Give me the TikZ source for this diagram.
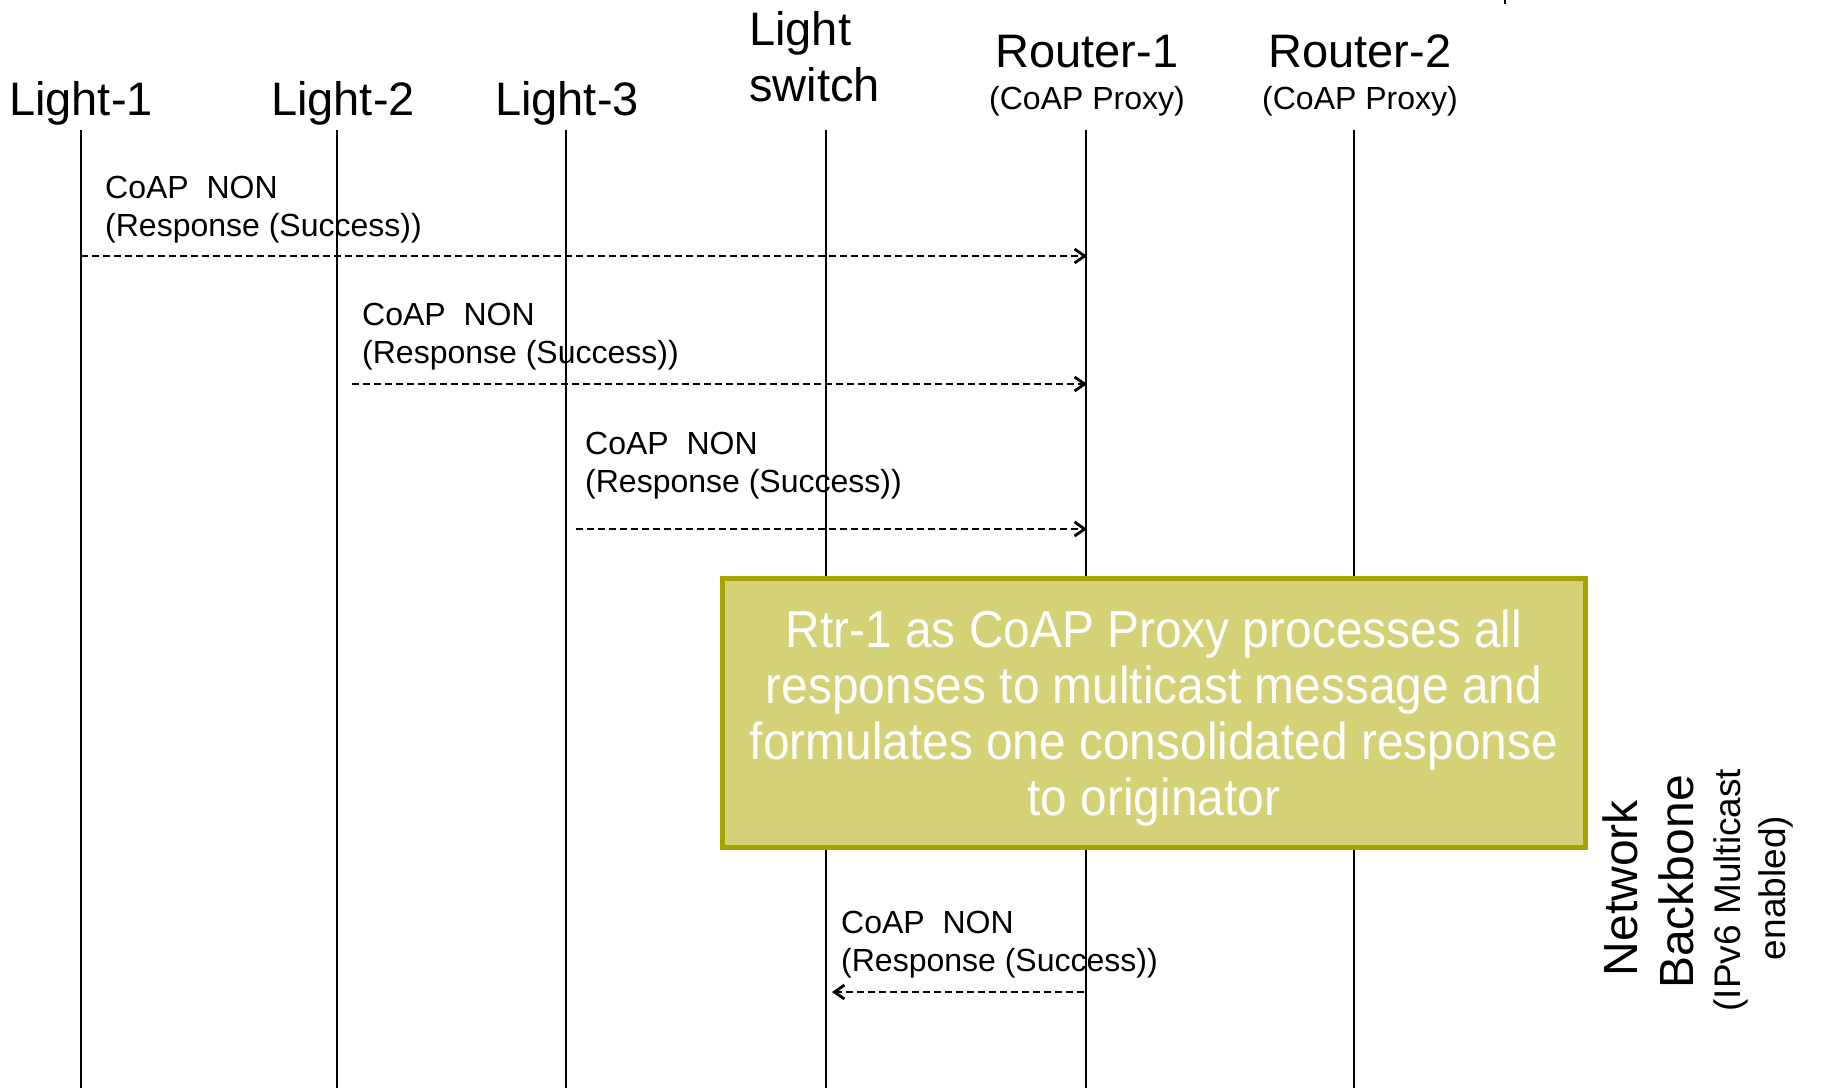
\documentclass[tikz,border=0pt]{standalone}
\usepackage{fontspec}
\setmainfont{Liberation Sans}
\newfontfamily\condfont[FakeStretch=0.92]{Liberation Sans}
\usetikzlibrary{arrows.meta}
\definecolor{boxfill}{RGB}{212,209,118}
\definecolor{boxline}{RGB}{166,163,0}
\begin{document}
\begin{tikzpicture}[x=1pt,y=-1pt,
  head/.style={font=\fontsize{47}{56}\selectfont, anchor=base, inner sep=0pt},
  sub/.style={font=\fontsize{32}{38}\selectfont, anchor=base, inner sep=0pt},
  msg/.style={font=\fontsize{32}{38}\selectfont, anchor=west, align=left, inner sep=0pt},
  side/.style={font=\fontsize{48}{56}\selectfont, rotate=90, anchor=base, inner sep=0pt},
  sidesmall/.style={font=\fontsize{37}{44}\selectfont, rotate=90, anchor=base, inner sep=0pt},
  life/.style={line width=1.5pt},
  msgarrow/.style={line width=1.8pt, dash pattern=on 7pt off 4pt, -{Straight Barb[length=10pt,width=14pt,line width=2.8pt]}},
  notebox/.style={draw=boxline, line width=5pt, fill=boxfill, minimum width=863pt, minimum height=269pt},
  notetext/.style={text=white, align=center, inner sep=0pt, font=\condfont\fontsize{52}{56}\selectfont},
]
\useasboundingbox (0,0) rectangle (1835,1088);

% header labels
\node[head] (l1) at (81,115) {Light-1};
\node[head] (l2) at (343,115) {Light-2};
\node[head] (l3) at (567,115) {Light-3};
\node[head, anchor=base west, align=left] (ls) at (749,101) {Light\\switch};
\node[head] (r1) at (1087,67) {Router-1};
\node[sub] (r1s) at (1087,109) {(CoAP Proxy)};
\node[head] (r2) at (1360,67) {Router-2};
\node[sub] (r2s) at (1360,109) {(CoAP Proxy)};

% lifelines
\coordinate (l1t) at (81,130);   \coordinate (l1b) at (81,1088);
\coordinate (l2t) at (337,130);  \coordinate (l2b) at (337,1088);
\coordinate (l3t) at (566,130);  \coordinate (l3b) at (566,1088);
\coordinate (lst) at (826,130);  \coordinate (lsb) at (826,1088);
\coordinate (r1t) at (1086,130); \coordinate (r1b) at (1086,1088);
\coordinate (r2t) at (1354,130); \coordinate (r2b) at (1354,1088);
\draw[life] (l1t) -- (l1b);
\draw[life] (l2t) -- (l2b);
\draw[life] (l3t) -- (l3b);
\draw[life] (lst) -- (lsb);
\draw[life] (r1t) -- (r1b);
\draw[life] (r2t) -- (r2b);

% small mark at top
\coordinate (tk1) at (1505,0); \coordinate (tk2) at (1505,4);
\draw[line width=1.5pt] (tk1) -- (tk2);

% messages
\node[msg] (m1) at (105,210) {CoAP\ \ NON\\(Response (Success))};
\coordinate (a1s) at (81,256);  \coordinate (a1e) at (1087,256);
\draw[msgarrow] (a1s) -- (a1e);

\node[msg] (m2) at (362,337) {CoAP\ \ NON\\(Response (Success))};
\coordinate (a2s) at (352,384); \coordinate (a2e) at (1087,384);
\draw[msgarrow] (a2s) -- (a2e);

\node[msg] (m3) at (585,466) {CoAP\ \ NON\\(Response (Success))};
\coordinate (a3s) at (576,529); \coordinate (a3e) at (1087,529);
\draw[msgarrow] (a3s) -- (a3e);

% note box
\node[notebox] (box) at (1154,713) {};
\node[notetext] (boxtext) at (1154,718) {Rtr-1 as CoAP Proxy processes all\\responses to multicast message and\\formulates one consolidated response\\to originator};

% response to originator
\node[msg] (m4) at (841,945) {CoAP\ \ NON\\(Response (Success))};
\coordinate (a4s) at (1084,992); \coordinate (a4e) at (832,992);
\draw[msgarrow] (a4s) -- (a4e);

% side label
\node[side] (nb1) at (1637,888) {Network};
\node[side] (nb2) at (1693,882) {Backbone};
\node[sidesmall] (nb3) at (1740,890) {(IPv6 Multicast};
\node[sidesmall] (nb4) at (1785,888) {enabled)};
\end{tikzpicture}
\end{document}
